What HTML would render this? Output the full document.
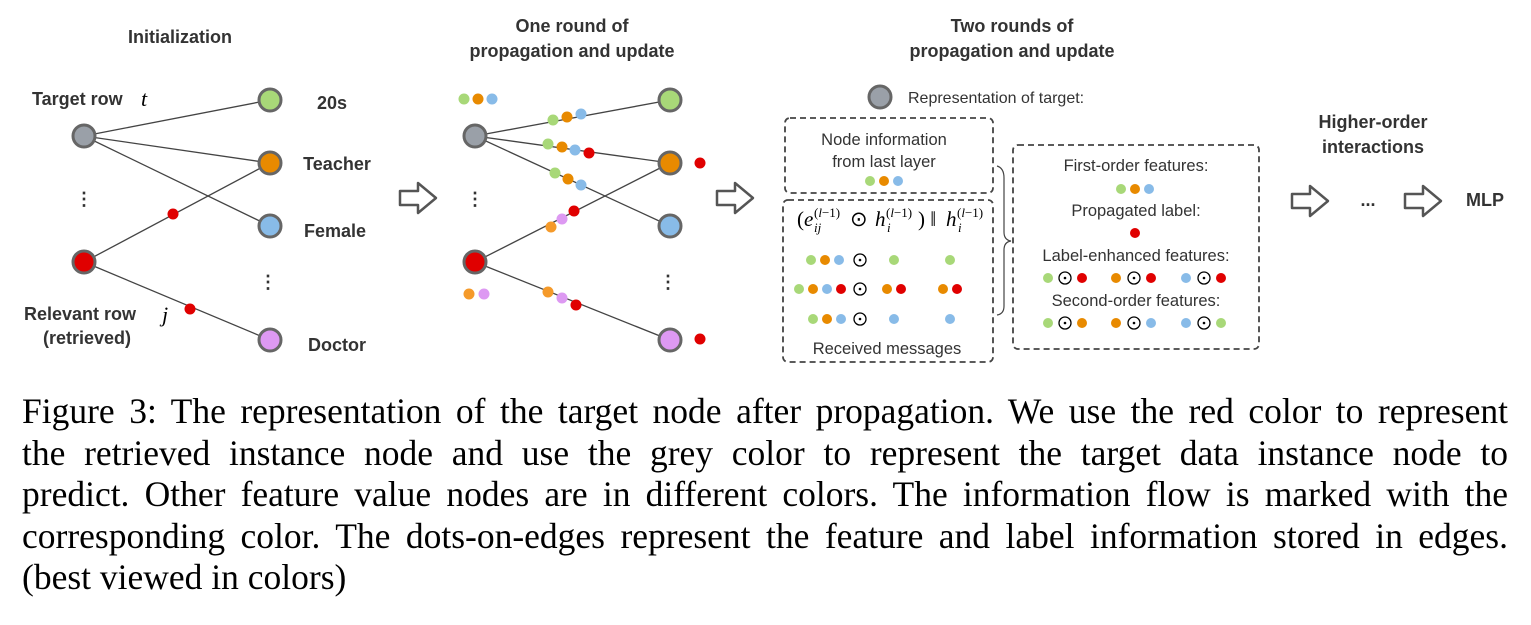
<!DOCTYPE html>
<html><head><meta charset="utf-8"><style>
body{margin:0;background:#fff;width:1531px;height:625px;overflow:hidden;position:relative}
svg{position:absolute;left:0;top:0}
.cap{position:absolute;left:22px;top:391px;width:1486px;font-family:"Liberation Serif",serif;font-size:35.5px;line-height:41.5px;color:#000}
.cap span{display:block;white-space:nowrap;text-align:justify;text-align-last:justify}
.cap span.l{text-align-last:left}
</style></head><body>
<svg width="1531" height="390" viewBox="0 0 1531 390" font-family="Liberation Sans, sans-serif">
<defs>
<g id="arr"><path d="M0,-7 H18 V-15 L36,0 L18,15 V7 H0 Z" fill="#fff" stroke="#555" stroke-width="2.5" stroke-linejoin="round"/></g>
</defs>
<g font-weight="bold" font-size="18" fill="#333" text-anchor="middle">
<text x="180" y="43">Initialization</text>
<text x="572" y="32">One round of</text>
<text x="572" y="57">propagation and update</text>
<text x="1012" y="32">Two rounds of</text>
<text x="1012" y="57">propagation and update</text>
<text x="1373" y="128">Higher-order</text>
<text x="1373" y="153">interactions</text>
<text x="1485" y="206">MLP</text>
<text x="1368" y="206">...</text>
<text x="332" y="109">20s</text>
<text x="337" y="170">Teacher</text>
<text x="335" y="237">Female</text>
<text x="337" y="351">Doctor</text>
<text x="80" y="320">Relevant row</text>
<text x="87" y="344">(retrieved)</text>
</g>
<text x="32" y="105" font-weight="bold" font-size="18" fill="#333">Target row</text>
<text x="141" y="106" font-family="Liberation Serif,serif" font-style="italic" font-size="22">t</text>
<text x="162" y="322" font-family="Liberation Serif,serif" font-style="italic" font-size="22">j</text>
<g stroke="#444" stroke-width="1.3">
<line x1="84" y1="136" x2="270" y2="100"/><line x1="84" y1="136" x2="270" y2="163"/><line x1="84" y1="136" x2="270" y2="226"/>
<line x1="84" y1="262" x2="270" y2="163"/><line x1="84" y1="262" x2="270" y2="340"/>
<line x1="475" y1="136" x2="670" y2="100"/><line x1="475" y1="136" x2="670" y2="163"/><line x1="475" y1="136" x2="670" y2="226"/>
<line x1="475" y1="262" x2="670" y2="163"/><line x1="475" y1="262" x2="670" y2="340"/>
</g>
<g stroke="#666" stroke-width="3">
<circle cx="84" cy="136" r="11" fill="#9aa0a8"/><circle cx="84" cy="262" r="11" fill="#e00000"/>
<circle cx="270" cy="100" r="11" fill="#a8d878"/><circle cx="270" cy="163" r="11" fill="#e88a00"/><circle cx="270" cy="226" r="11" fill="#88bbe8"/><circle cx="270" cy="340" r="11" fill="#dd99f2"/>
<circle cx="475" cy="136" r="11" fill="#9aa0a8"/><circle cx="475" cy="262" r="11" fill="#e00000"/>
<circle cx="670" cy="100" r="11" fill="#a8d878"/><circle cx="670" cy="163" r="11" fill="#e88a00"/><circle cx="670" cy="226" r="11" fill="#88bbe8"/><circle cx="670" cy="340" r="11" fill="#dd99f2"/>
<circle cx="880" cy="97" r="11" fill="#9aa0a8"/>
</g>
<g fill="#333" font-weight="bold" font-size="18" text-anchor="middle">
<text x="84" y="205">⋮</text><text x="268" y="288">⋮</text><text x="475" y="205">⋮</text><text x="668" y="288">⋮</text>
</g>
<g>
<circle cx="173" cy="214" r="5.5" fill="#e00000"/><circle cx="190" cy="309" r="5.5" fill="#e00000"/>
<circle cx="464" cy="99" r="5.5" fill="#a8d878"/><circle cx="478" cy="99" r="5.5" fill="#e88a00"/><circle cx="492" cy="99" r="5.5" fill="#88bbe8"/>
<circle cx="553" cy="120" r="5.5" fill="#a8d878"/><circle cx="567" cy="117" r="5.5" fill="#e88a00"/><circle cx="581" cy="114" r="5.5" fill="#88bbe8"/>
<circle cx="548" cy="144" r="5.5" fill="#a8d878"/><circle cx="562" cy="147" r="5.5" fill="#e88a00"/><circle cx="575" cy="150" r="5.5" fill="#88bbe8"/><circle cx="589" cy="153" r="5.5" fill="#e00000"/>
<circle cx="555" cy="173" r="5.5" fill="#a8d878"/><circle cx="568" cy="179" r="5.5" fill="#e88a00"/><circle cx="581" cy="185" r="5.5" fill="#88bbe8"/>
<circle cx="551" cy="227" r="5.5" fill="#f59a2a"/><circle cx="562" cy="219" r="5.5" fill="#dd99f2"/><circle cx="574" cy="211" r="5.5" fill="#e00000"/>
<circle cx="548" cy="292" r="5.5" fill="#f59a2a"/><circle cx="562" cy="298" r="5.5" fill="#dd99f2"/><circle cx="576" cy="305" r="5.5" fill="#e00000"/>
<circle cx="469" cy="294" r="5.5" fill="#f59a2a"/><circle cx="484" cy="294" r="5.5" fill="#dd99f2"/>
<circle cx="700" cy="163" r="5.5" fill="#e00000"/><circle cx="700" cy="339" r="5.5" fill="#e00000"/>
</g>
<use href="#arr" x="400" y="198"/><use href="#arr" x="717" y="198"/><use href="#arr" x="1292" y="201"/><use href="#arr" x="1405" y="201"/>
<text x="908" y="103" font-size="16" fill="#333">Representation of target:</text>
<g fill="none" stroke="#444" stroke-width="1.8" stroke-dasharray="6,4">
<rect x="785" y="118" width="208" height="75" rx="5"/>
<rect x="783" y="200" width="210" height="162" rx="5"/>
<rect x="1013" y="145" width="246" height="204" rx="5"/>
</g>
<path d="M997,166 Q1004,168 1004,178 V232 Q1004,240 1011,241 Q1004,242 1004,250 V306 Q1004,314 997,315" fill="none" stroke="#444" stroke-width="1.2"/>
<g font-size="16.5" fill="#333" text-anchor="middle">
<text x="884" y="145">Node information</text><text x="884" y="167">from last layer</text>
<text x="887" y="354">Received messages</text>
<text x="1136" y="171">First-order features:</text>
<text x="1136" y="216">Propagated label:</text>
<text x="1136" y="261">Label-enhanced features:</text>
<text x="1136" y="306">Second-order features:</text>
</g>
<g font-family="Liberation Serif,serif" font-size="21">
<text x="797" y="226">(<tspan font-style="italic">e</tspan></text>
<text x="814" y="217" font-size="13">(<tspan font-style="italic">l</tspan>−1)</text>
<text x="814" y="232" font-size="13" font-style="italic">ij</text>
<text x="850" y="226">⊙</text>
<text x="875" y="226" font-style="italic">h</text>
<text x="886" y="217" font-size="13">(<tspan font-style="italic">l</tspan>−1)</text>
<text x="887" y="232" font-size="13" font-style="italic">i</text>
<text x="918" y="226">) ‖</text>
<text x="946" y="226" font-style="italic">h</text>
<text x="957" y="217" font-size="13">(<tspan font-style="italic">l</tspan>−1)</text>
<text x="958" y="232" font-size="13" font-style="italic">i</text>
</g>
<g>
<circle cx="870" cy="181" r="5" fill="#a8d878"/><circle cx="884" cy="181" r="5" fill="#e88a00"/><circle cx="898" cy="181" r="5" fill="#88bbe8"/>
<circle cx="811" cy="260" r="5" fill="#a8d878"/><circle cx="825" cy="260" r="5" fill="#e88a00"/><circle cx="839" cy="260" r="5" fill="#88bbe8"/>
<circle cx="894" cy="260" r="5" fill="#a8d878"/><circle cx="950" cy="260" r="5" fill="#a8d878"/>
<circle cx="799" cy="289" r="5" fill="#a8d878"/><circle cx="813" cy="289" r="5" fill="#e88a00"/><circle cx="827" cy="289" r="5" fill="#88bbe8"/><circle cx="841" cy="289" r="5" fill="#e00000"/>
<circle cx="887" cy="289" r="5" fill="#e88a00"/><circle cx="901" cy="289" r="5" fill="#e00000"/><circle cx="943" cy="289" r="5" fill="#e88a00"/><circle cx="957" cy="289" r="5" fill="#e00000"/>
<circle cx="813" cy="319" r="5" fill="#a8d878"/><circle cx="827" cy="319" r="5" fill="#e88a00"/><circle cx="841" cy="319" r="5" fill="#88bbe8"/>
<circle cx="894" cy="319" r="5" fill="#88bbe8"/><circle cx="950" cy="319" r="5" fill="#88bbe8"/>
<circle cx="1121" cy="189" r="5" fill="#a8d878"/><circle cx="1135" cy="189" r="5" fill="#e88a00"/><circle cx="1149" cy="189" r="5" fill="#88bbe8"/>
<circle cx="1135" cy="233" r="5" fill="#e00000"/>
<circle cx="1048" cy="278" r="5" fill="#a8d878"/><circle cx="1082" cy="278" r="5" fill="#e00000"/>
<circle cx="1116" cy="278" r="5" fill="#e88a00"/><circle cx="1151" cy="278" r="5" fill="#e00000"/>
<circle cx="1186" cy="278" r="5" fill="#88bbe8"/><circle cx="1221" cy="278" r="5" fill="#e00000"/>
<circle cx="1048" cy="323" r="5" fill="#a8d878"/><circle cx="1082" cy="323" r="5" fill="#e88a00"/>
<circle cx="1116" cy="323" r="5" fill="#e88a00"/><circle cx="1151" cy="323" r="5" fill="#88bbe8"/>
<circle cx="1186" cy="323" r="5" fill="#88bbe8"/><circle cx="1221" cy="323" r="5" fill="#a8d878"/>
</g>
<g fill="none" stroke="#000" stroke-width="1.3">
<circle cx="860" cy="260" r="6"/><circle cx="860" cy="289" r="6"/><circle cx="860" cy="319" r="6"/>
<circle cx="1065" cy="278" r="6"/><circle cx="1134" cy="278" r="6"/><circle cx="1204" cy="278" r="6"/>
<circle cx="1065" cy="323" r="6"/><circle cx="1134" cy="323" r="6"/><circle cx="1204" cy="323" r="6"/>
</g>
<g fill="#000">
<circle cx="860" cy="260" r="1.3"/><circle cx="860" cy="289" r="1.3"/><circle cx="860" cy="319" r="1.3"/>
<circle cx="1065" cy="278" r="1.3"/><circle cx="1134" cy="278" r="1.3"/><circle cx="1204" cy="278" r="1.3"/>
<circle cx="1065" cy="323" r="1.3"/><circle cx="1134" cy="323" r="1.3"/><circle cx="1204" cy="323" r="1.3"/>
</g>
</svg>
<div class="cap">
<span>Figure 3: The representation of the target node after propagation. We use the red color to represent</span>
<span>the retrieved instance node and use the grey color to represent the target data instance node to</span>
<span>predict. Other feature value nodes are in different colors. The information flow is marked with the</span>
<span>corresponding color. The dots-on-edges represent the feature and label information stored in edges.</span>
<span class="l">(best viewed in colors)</span>
</div>
</body></html>
